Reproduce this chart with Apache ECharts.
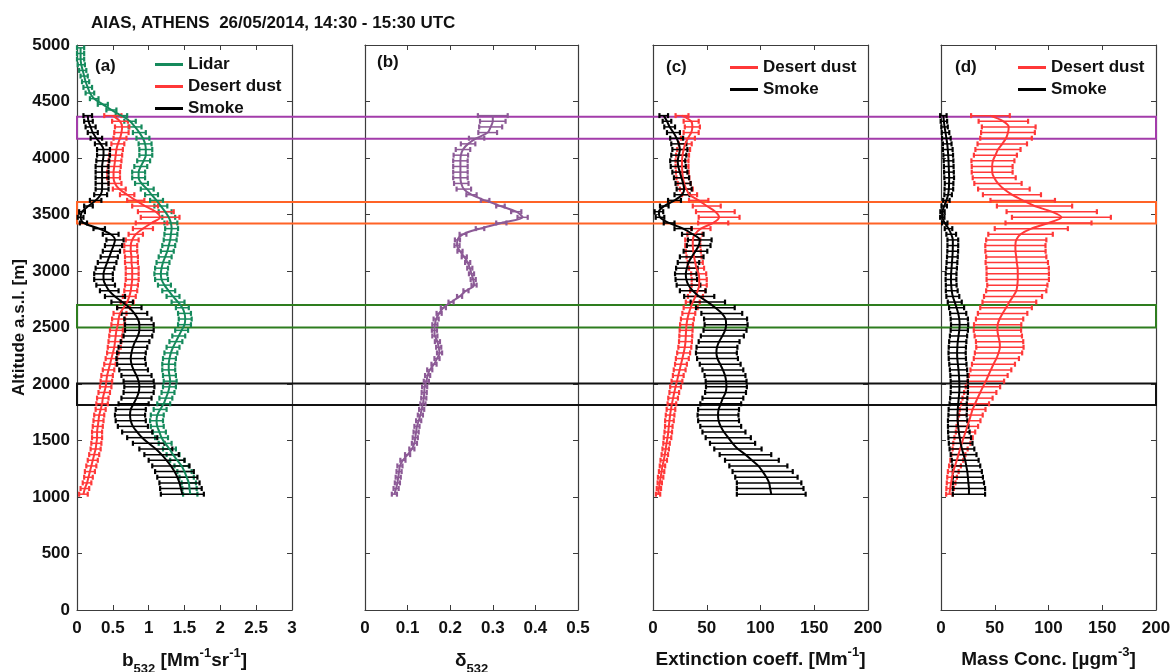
<!DOCTYPE html>
<html>
<head>
<meta charset="utf-8">
<title>AIAS, ATHENS 26/05/2014</title>
<script src="https://cdn.jsdelivr.net/npm/echarts/dist/echarts.min.js"></script>
<style>
  html, body { margin: 0; padding: 0; background: #fff; }
  #chart { width: 1170px; height: 672px; }
</style>
</head>
<body>
<div id="chart"></div>
<script>
// altitude levels of the profiles (m a.s.l.)
const altitude = [
  1025, 1075, 1125, 1175, 1225, 1275, 1325, 1375, 1425, 1475,
  1525, 1575, 1625, 1675, 1725, 1775, 1825, 1875, 1925, 1975,
  2025, 2075, 2125, 2175, 2225, 2275, 2325, 2375, 2425, 2475,
  2525, 2575, 2625, 2675, 2725, 2775, 2825, 2875, 2925, 2975,
  3025, 3075, 3125, 3175, 3225, 3275, 3325, 3375, 3425, 3475,
  3525, 3575, 3625, 3675, 3725, 3775, 3825, 3875, 3925, 3975,
  4025, 4075, 4125, 4175, 4225, 4275, 4325, 4375
];
// lidar profile goes higher
const altitudeLidar = altitude.concat([
  4425, 4475, 4525, 4575, 4625, 4675, 4725, 4775, 4825, 4875, 4925, 4975
]);

// (a) backscatter coefficient b532 [Mm-1 sr-1]
const lidarB = [
  1.58, 1.57, 1.56, 1.53, 1.50, 1.46, 1.40, 1.34, 1.29, 1.23,
  1.18, 1.15, 1.12, 1.11, 1.12, 1.16, 1.21, 1.24, 1.27, 1.29,
  1.30, 1.29, 1.28, 1.28, 1.29, 1.31, 1.34, 1.38, 1.42, 1.46,
  1.50, 1.51, 1.50, 1.47, 1.41, 1.34, 1.28, 1.22, 1.18, 1.17,
  1.18, 1.20, 1.23, 1.26, 1.28, 1.30, 1.31, 1.32, 1.31, 1.28,
  1.23, 1.17, 1.11, 1.04, 0.98, 0.90, 0.86, 0.86, 0.89, 0.93,
  0.96, 0.96, 0.95, 0.92, 0.87, 0.81, 0.74, 0.62,
  0.48, 0.36, 0.24, 0.18, 0.15, 0.12, 0.10, 0.08, 0.06, 0.05, 0.05, 0.05
];
const lidarBErr = [
  0.10, 0.10, 0.10, 0.10, 0.10, 0.10, 0.10, 0.09, 0.09, 0.09,
  0.09, 0.09, 0.09, 0.09, 0.09, 0.09, 0.09, 0.09, 0.09, 0.09,
  0.09, 0.09, 0.09, 0.09, 0.09, 0.09, 0.09, 0.09, 0.09, 0.09,
  0.09, 0.09, 0.09, 0.09, 0.09, 0.09, 0.09, 0.09, 0.09, 0.09,
  0.09, 0.09, 0.09, 0.09, 0.09, 0.09, 0.09, 0.09, 0.09, 0.09,
  0.09, 0.09, 0.09, 0.09, 0.09, 0.09, 0.09, 0.09, 0.09, 0.09,
  0.09, 0.09, 0.09, 0.09, 0.09, 0.09, 0.08, 0.08,
  0.07, 0.07, 0.06, 0.06, 0.06, 0.05, 0.05, 0.05, 0.05, 0.05, 0.05, 0.05
];
const dustB = [
  0.09, 0.11, 0.14, 0.16, 0.18, 0.20, 0.22, 0.24, 0.26, 0.27,
  0.28, 0.28, 0.29, 0.30, 0.31, 0.33, 0.35, 0.36, 0.38, 0.40,
  0.41, 0.42, 0.44, 0.46, 0.48, 0.50, 0.52, 0.53, 0.54, 0.55,
  0.57, 0.58, 0.60, 0.65, 0.70, 0.73, 0.75, 0.76, 0.77, 0.77,
  0.77, 0.76, 0.76, 0.75, 0.75, 0.77, 0.82, 0.92, 1.04, 1.16,
  1.10, 0.95, 0.82, 0.70, 0.59, 0.53, 0.51, 0.51, 0.52, 0.53,
  0.54, 0.55, 0.57, 0.60, 0.62, 0.63, 0.60, 0.50
];
const dustBErr = [
  0.06, 0.06, 0.06, 0.06, 0.07, 0.07, 0.07, 0.07, 0.07, 0.07,
  0.07, 0.07, 0.07, 0.07, 0.07, 0.07, 0.08, 0.08, 0.08, 0.08,
  0.08, 0.08, 0.08, 0.08, 0.08, 0.08, 0.09, 0.09, 0.09, 0.09,
  0.09, 0.09, 0.09, 0.09, 0.09, 0.09, 0.09, 0.09, 0.09, 0.09,
  0.09, 0.09, 0.09, 0.09, 0.09, 0.09, 0.10, 0.14, 0.22, 0.27,
  0.25, 0.18, 0.12, 0.10, 0.09, 0.09, 0.09, 0.09, 0.09, 0.09,
  0.09, 0.09, 0.09, 0.09, 0.10, 0.10, 0.11, 0.12
];
const smokeB = [
  1.47, 1.45, 1.43, 1.40, 1.36, 1.31, 1.25, 1.18, 1.10, 1.00,
  0.91, 0.84, 0.78, 0.75, 0.74, 0.75, 0.79, 0.83, 0.86, 0.87,
  0.86, 0.83, 0.79, 0.76, 0.75, 0.76, 0.78, 0.81, 0.85, 0.87,
  0.87, 0.85, 0.80, 0.73, 0.63, 0.53, 0.45, 0.40, 0.37, 0.37,
  0.39, 0.42, 0.45, 0.48, 0.51, 0.53, 0.47, 0.31, 0.09, 0.05,
  0.07, 0.16, 0.26, 0.33, 0.35, 0.35, 0.35, 0.35, 0.35, 0.36,
  0.37, 0.37, 0.33, 0.27, 0.22, 0.19, 0.16, 0.15
];
const smokeBErr = [
  0.30, 0.29, 0.28, 0.28, 0.27, 0.26, 0.25, 0.24, 0.23, 0.22,
  0.21, 0.21, 0.21, 0.21, 0.21, 0.21, 0.21, 0.21, 0.21, 0.21,
  0.21, 0.21, 0.20, 0.20, 0.20, 0.20, 0.20, 0.20, 0.20, 0.20,
  0.20, 0.19, 0.18, 0.17, 0.15, 0.14, 0.13, 0.13, 0.13, 0.13,
  0.13, 0.13, 0.12, 0.12, 0.12, 0.12, 0.11, 0.08, 0.05, 0.04,
  0.04, 0.06, 0.08, 0.09, 0.09, 0.09, 0.09, 0.09, 0.09, 0.09,
  0.09, 0.09, 0.08, 0.08, 0.07, 0.07, 0.06, 0.06
];

// (b) particle depolarization ratio d532
const delta = [
  0.069, 0.073, 0.076, 0.078, 0.080, 0.082, 0.089, 0.100, 0.110, 0.116,
  0.118, 0.120, 0.122, 0.126, 0.130, 0.133, 0.136, 0.138, 0.139, 0.140,
  0.144, 0.147, 0.152, 0.162, 0.169, 0.175, 0.173, 0.170, 0.164, 0.163,
  0.164, 0.167, 0.174, 0.184, 0.202, 0.222, 0.237, 0.256, 0.254, 0.250,
  0.246, 0.241, 0.233, 0.223, 0.216, 0.217, 0.230, 0.270, 0.320, 0.370,
  0.355, 0.318, 0.282, 0.250, 0.232, 0.226, 0.224, 0.224, 0.224, 0.224,
  0.225, 0.230, 0.242, 0.262, 0.288, 0.295, 0.300, 0.300
];
const deltaErr = [
  0.006, 0.006, 0.006, 0.006, 0.006, 0.006, 0.006, 0.006, 0.006, 0.006,
  0.006, 0.006, 0.006, 0.006, 0.006, 0.006, 0.006, 0.006, 0.006, 0.006,
  0.006, 0.006, 0.006, 0.006, 0.006, 0.006, 0.006, 0.006, 0.006, 0.006,
  0.006, 0.006, 0.006, 0.006, 0.006, 0.006, 0.006, 0.006, 0.006, 0.006,
  0.006, 0.006, 0.006, 0.006, 0.006, 0.006, 0.008, 0.010, 0.012, 0.012,
  0.012, 0.010, 0.010, 0.012, 0.017, 0.017, 0.017, 0.017, 0.017, 0.017,
  0.017, 0.017, 0.017, 0.018, 0.022, 0.027, 0.030, 0.035
];

// (c) extinction coefficient [Mm-1]
const dustExt = [
  4.7, 5.5, 6.3, 7.1, 8, 8.8, 10, 11, 11.8, 12.6,
  13.5, 14.2, 14.7, 15.3, 15.9, 16.7, 17.6, 18.7, 19.8, 21,
  22.3, 23.5, 24.8, 26, 27.3, 28.5, 29.6, 30.2, 30.5, 30.8,
  31.2, 32, 33.3, 35, 37, 39.5, 41.5, 43, 43, 42.5,
  40.5, 39.3, 38.2, 37.5, 37, 37, 39, 44.5, 56, 61.5,
  58, 50, 42.5, 34, 31, 29, 27.8, 27.3, 27, 27,
  27.5, 28.5, 30, 32.5, 35.5, 36.6, 35.5, 27
];
const dustExtErr = [
  2, 2, 2, 2.5, 2.5, 2.5, 3, 3, 3, 3,
  3.5, 3.5, 3.5, 4, 4, 4, 4, 4.5, 4.5, 5,
  5, 5, 5.5, 5.5, 6, 6, 6, 6, 6, 6,
  6, 6, 6, 6.5, 6.5, 7, 7, 7, 7, 7,
  7, 7, 7, 7, 7, 7, 7, 9, 14, 19,
  18, 13, 9, 7, 6, 6, 6, 6, 6, 6,
  6, 6, 6, 6.5, 7, 7, 7, 6
];
const smokeExt = [
  110, 109, 108, 105.5, 102, 98, 92, 86, 79, 74,
  70, 66, 63, 61, 60.5, 61, 63, 65, 67.5, 68.3,
  68, 67, 65, 62.5, 60, 59, 59.5, 61.5, 64.5, 67,
  68, 67.5, 64, 58, 51, 43, 37, 33, 31, 30.5,
  31.5, 33, 36, 39.5, 42.5, 43.5, 37, 28, 15, 6.5,
  5.5, 10.5, 20, 27, 29, 28, 26.5, 25, 23.5, 23,
  24, 25, 24, 22, 19, 15.5, 13, 10
];
const smokeExtErr = [
  32, 31, 30, 29, 28, 27, 25, 24, 22, 21,
  21, 20, 19, 19, 19, 19, 19, 19, 19, 19,
  19, 19, 19, 19, 19, 19, 19, 19, 20, 20,
  20, 20, 19, 18, 16, 14, 12, 11, 10, 10,
  10, 10, 11, 11, 11, 11, 10, 8, 5, 4,
  4, 4, 6, 7, 7, 7, 7, 7, 7, 7,
  7, 7, 7, 6, 6, 5, 4, 4
];

// (d) mass concentration [ug m-3]
const dustMass = [
  7.8, 8.5, 9.4, 10.3, 11.4, 13, 14.7, 16.2, 17.8, 19.4,
  21, 22.8, 24.5, 26.2, 27.8, 29.4, 31.7, 34, 36.5, 39,
  41.7, 44, 46.4, 48.8, 51.5, 53.5, 54.8, 54.5, 53.3, 52.5,
  52.7, 54.5, 57.3, 60.5, 63.6, 67, 70, 71, 71.4, 71.4,
  71.3, 70.5, 70, 69.3, 69.2, 70, 74, 84, 100, 112,
  103, 87, 76, 66, 58.5, 53, 49.5, 47.6, 47.6, 48.3,
  50.6, 53, 57, 60.5, 62.3, 63, 58, 46
];
const dustMassErr = [
  3, 3.5, 4, 4.5, 5, 5.5, 6, 6.5, 7, 8,
  8.5, 9, 10, 10.5, 11, 12, 13, 14, 15, 16,
  17, 18, 19, 20, 21, 22, 22, 22, 22, 22,
  22, 22, 23, 24, 25, 27, 28, 28, 29, 29,
  29, 29, 28, 28, 28, 28, 30, 34, 40, 46,
  42, 35, 30, 27, 24, 22, 20, 19, 19, 20,
  20, 21, 23, 24, 25, 25, 23, 18
];
const smokeMass = [
  26, 26, 25.5, 25, 24.5, 23.5, 22.5, 21, 19.5, 18.3,
  17.4, 16.6, 16, 15.5, 15.4, 15.6, 16, 16.5, 17, 17.1,
  17, 16.7, 16.3, 15.7, 15.2, 15, 15.2, 15.6, 16.3, 17,
  17.3, 17, 16, 14.5, 12.8, 11, 10, 9.5, 9.3, 9.4,
  9.8, 10.2, 10.6, 10.9, 11, 11, 9.5, 7, 3.5, 1.2,
  1.4, 3, 5, 6.6, 7.3, 7.5, 7.6, 7.4, 7.2, 7,
  6.7, 6.3, 5.8, 5, 4.2, 3.3, 2.7, 2.2
];
const smokeMassErr = [
  15, 15, 14.5, 14, 13.5, 13, 12.5, 12, 11.5, 11,
  10.5, 10, 9.5, 9, 8.5, 8.5, 8, 8, 8, 8,
  8, 8, 8, 8, 8, 8, 8, 8, 8, 8,
  8, 8, 7.5, 7, 6.5, 6, 5.5, 5, 5, 5,
  5, 5, 5, 5, 5, 5, 4.5, 3.5, 2.5, 2,
  2, 2.5, 3, 3.5, 4, 4, 4.5, 4.5, 4.5, 4.5,
  4.5, 4.5, 4, 4, 3.5, 3, 3, 3
];

// highlighted layers (bottom / top altitude, m)
const layerBottom = [1815, 2500, 3420, 4170];
const layerTop = [2005, 2700, 3610, 4365];
const layerColors = ['#111111', '#2e7d1f', '#ff6326', '#a33caa'];

// axis ticks
const altTicks = { min: 0, max: 5000, interval: 500 };

const FONT = '"Liberation Sans", Arial, Helvetica, sans-serif';
const FRAME = '#3c3c3c';
const GREEN = '#158a5c';
const RED = '#ff3838';
const BLACK = '#000000';
const PURPLE = '#8c5a96';

const rich = {
  t: { fontFamily: FONT, fontSize: 19, fontWeight: 'bold', color: '#111' },
  s: { fontFamily: FONT, fontSize: 13, fontWeight: 'bold', color: '#111', padding: [17, 0, 0, 0] },
  p: { fontFamily: FONT, fontSize: 13, fontWeight: 'bold', color: '#111', padding: [0, 0, 15, 0] }
};

const panels = [
  { left: 77, width: 215, max: 3, interval: 0.5,
    name: '{t|b}{s|532}{t| [Mm}{p|-1}{t|sr}{p|-1}{t|]}' },
  { left: 365, width: 213, max: 0.5, interval: 0.1, name: '{t|δ}{s|532}' },
  { left: 653, width: 215, max: 200, interval: 50, name: '{t|Extinction coeff. [Mm}{p|-1}{t|]}' },
  { left: 941, width: 215, max: 200, interval: 50, name: '{t|Mass Conc. [µgm}{p|-3}{t|]}' }
];

const grid = [];
const xAxis = [];
const yAxis = [];
panels.forEach((p, i) => {
  grid.push({ left: p.left, top: 45, width: p.width, height: 565, outerBoundsMode: 'none', containLabel: false });
  const base = {
    type: 'value', gridIndex: i, min: 0, max: p.max, interval: p.interval,
    axisLine: { show: true, onZero: false, lineStyle: { color: FRAME, width: 1.2 } },
    axisTick: { show: true, inside: true, length: 5, lineStyle: { color: FRAME } },
    splitLine: { show: false }
  };
  xAxis.push(Object.assign({}, base, {
    position: 'bottom',
    axisLabel: { color: '#111', fontFamily: FONT, fontWeight: 'bold', fontSize: 17, margin: 10 },
    name: p.name, nameLocation: 'middle', nameGap: 36,
    nameTextStyle: { rich: rich }
  }));
  xAxis.push(Object.assign({}, base, { position: 'top', axisLabel: { show: false } }));
  const ybase = {
    type: 'value', gridIndex: i, min: altTicks.min, max: altTicks.max, interval: altTicks.interval,
    axisLine: { show: true, onZero: false, lineStyle: { color: FRAME, width: 1.2 } },
    axisTick: { show: true, inside: true, length: 5, lineStyle: { color: FRAME } },
    splitLine: { show: false }
  };
  yAxis.push(Object.assign({}, ybase, {
    position: 'left',
    axisLabel: {
      show: i === 0, color: '#111', fontFamily: FONT, fontWeight: 'bold', fontSize: 17, margin: 7,
      formatter: (v) => String(v)
    },
    name: i === 0 ? 'Altitude a.s.l. [m]' : '', nameLocation: 'middle', nameGap: 43,
    nameTextStyle: { color: '#111', fontFamily: FONT, fontWeight: 'bold', fontSize: 17 }
  }));
  yAxis.push(Object.assign({}, ybase, { position: 'right', axisLabel: { show: false } }));
});
// overlay grid across all panels for the layer boxes
grid.push({ left: 77, top: 45, width: 1079, height: 565, outerBoundsMode: 'none', containLabel: false });
xAxis.push({ type: 'value', gridIndex: 4, min: 0, max: 1, show: false });
yAxis.push({ type: 'value', gridIndex: 4, min: 0, max: 5000, show: false });

function errorBar(color) {
  return function (params, api) {
    const x = api.value(0), y = api.value(1), e = api.value(2);
    const lo = api.coord([x - e, y]);
    const hi = api.coord([x + e, y]);
    const style = { stroke: color, lineWidth: 1.5 };
    const cap = { stroke: color, lineWidth: 2.2 };
    return {
      type: 'group',
      children: [
        { type: 'line', shape: { x1: lo[0], y1: lo[1], x2: hi[0], y2: hi[1] }, style: style },
        { type: 'line', shape: { x1: lo[0], y1: lo[1] - 2.5, x2: lo[0], y2: lo[1] + 2.5 }, style: cap },
        { type: 'line', shape: { x1: hi[0], y1: hi[1] - 2.5, x2: hi[0], y2: hi[1] + 2.5 }, style: cap }
      ]
    };
  };
}

function profile(name, panel, values, errors, alts, color) {
  return [
    {
      name: name + ' error', type: 'custom', xAxisIndex: panel * 2, yAxisIndex: panel * 2,
      renderItem: errorBar(color), encode: { x: 0, y: 1 },
      data: values.map((v, k) => [v, alts[k], errors[k]]), silent: true
    },
    {
      name: name, type: 'line', xAxisIndex: panel * 2, yAxisIndex: panel * 2,
      data: values.map((v, k) => [v, alts[k]]),
      smooth: 0.3, showSymbol: false, symbol: 'none',
      lineStyle: { color: color, width: 2 }, itemStyle: { color: color }, silent: true
    }
  ];
}

const series = [].concat(
  profile('Lidar', 0, lidarB, lidarBErr, altitudeLidar, GREEN),
  profile('Desert dust', 0, dustB, dustBErr, altitude, RED),
  profile('Smoke', 0, smokeB, smokeBErr, altitude, BLACK),
  profile('Depol', 1, delta, deltaErr, altitude, PURPLE),
  profile('Desert dust', 2, dustExt, dustExtErr, altitude, RED),
  profile('Smoke', 2, smokeExt, smokeExtErr, altitude, BLACK),
  profile('Desert dust', 3, dustMass, dustMassErr, altitude, RED),
  profile('Smoke', 3, smokeMass, smokeMassErr, altitude, BLACK)
);

series.push({
  name: 'layers', type: 'line', xAxisIndex: 8, yAxisIndex: 8, data: [], z: 10, silent: true,
  markArea: {
    silent: true,
    label: { show: false },
    data: layerBottom.map((b, k) => [
      { xAxis: 0, yAxis: b, itemStyle: { color: 'rgba(0,0,0,0)', borderColor: layerColors[k], borderWidth: 2 } },
      { xAxis: 1, yAxis: layerTop[k] }
    ])
  }
});

const legendText = { color: '#111', fontFamily: FONT, fontWeight: 'bold', fontSize: 17 };
const legendBase = {
  orient: 'vertical', icon: 'rect', itemWidth: 28, itemHeight: 3, itemGap: 5,
  textStyle: legendText, selectedMode: false, padding: 0
};

const panelLabel = (text, left, top) => ({
  text: text, left: left, top: top, padding: 0,
  textStyle: { color: '#111', fontFamily: FONT, fontWeight: 'bold', fontSize: 17 }
});

const chart = echarts.init(document.getElementById('chart'));
chart.setOption({
  animation: false,
  backgroundColor: '#fff',
  title: [
    { text: 'AIAS, ATHENS  26/05/2014, 14:30 - 15:30 UTC', left: 91, top: 15, padding: 0,
      textStyle: { color: '#111', fontFamily: FONT, fontWeight: 'bold', fontSize: 17 } },
    panelLabel('(a)', 95, 58),
    panelLabel('(b)', 377, 54),
    panelLabel('(c)', 666, 59),
    panelLabel('(d)', 955, 59)
  ],
  legend: [
    Object.assign({}, legendBase, { data: ['Lidar', 'Desert dust', 'Smoke'], left: 155, top: 56 }),
    Object.assign({}, legendBase, { data: ['Desert dust', 'Smoke'], left: 730, top: 59 }),
    Object.assign({}, legendBase, { data: ['Desert dust', 'Smoke'], left: 1018, top: 59 })
  ],
  grid: grid,
  xAxis: xAxis,
  yAxis: yAxis,
  series: series
});
</script>
</body>
</html>
